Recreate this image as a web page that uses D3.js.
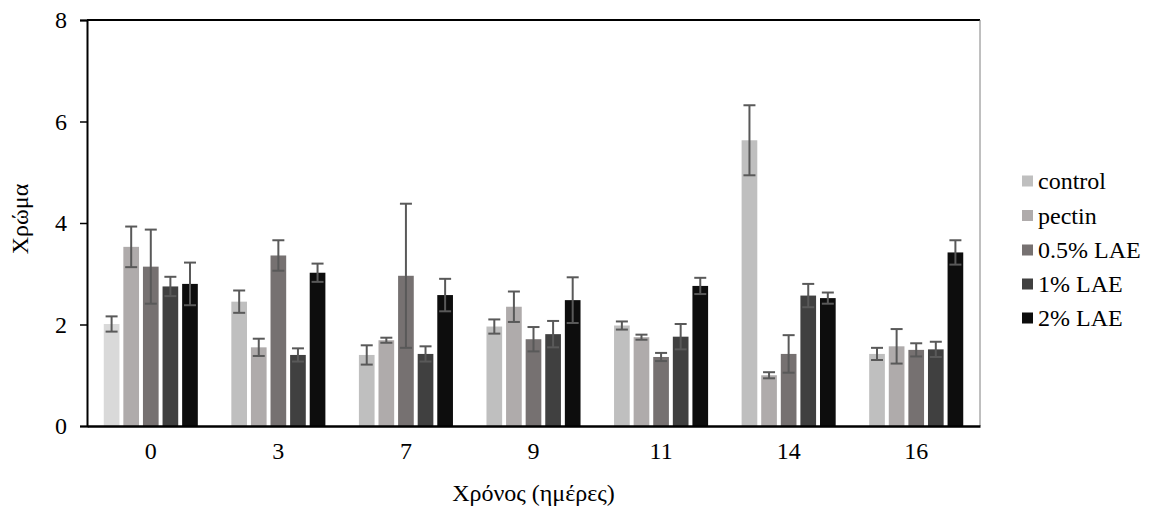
<!DOCTYPE html>
<html>
<head>
<meta charset="utf-8">
<script src="https://cdn.jsdelivr.net/npm/d3@7"></script>
<style>
  html, body { margin: 0; padding: 0; background: #fff; }
  svg text { font-family: "Liberation Serif", "Times New Roman", "DejaVu Serif", serif; fill: #000; }
</style>
</head>
<body>
<svg id="chart" width="1149" height="513"></svg>
<script>
const days = ["0", "3", "7", "9", "11", "14", "16"];
const seriesNames = ["control", "pectin", "0.5% LAE", "1% LAE", "2% LAE"];
const control    = [2.01, 2.45, 1.40, 1.96, 1.98, 5.63, 1.42];
const pectin     = [3.53, 1.55, 1.69, 2.35, 1.75, 1.00, 1.57];
const lae05      = [3.14, 3.36, 2.96, 1.71, 1.36, 1.42, 1.50];
const lae1       = [2.75, 1.40, 1.42, 1.81, 1.76, 2.57, 1.51];
const lae2       = [2.80, 3.02, 2.58, 2.48, 2.76, 2.52, 3.42];
const controlErr = [0.15, 0.22, 0.19, 0.14, 0.08, 0.69, 0.12];
const pectinErr  = [0.40, 0.17, 0.05, 0.30, 0.05, 0.06, 0.34];
const lae05Err   = [0.73, 0.30, 1.42, 0.24, 0.08, 0.37, 0.13];
const lae1Err    = [0.19, 0.13, 0.15, 0.26, 0.25, 0.23, 0.15];
const lae2Err    = [0.42, 0.18, 0.32, 0.45, 0.16, 0.11, 0.24];
const yTicks = [0, 2, 4, 6, 8];
const xTitle = "Χρόνος (ημέρες)";
const yTitle = "Χρώμα";

const values = [control, pectin, lae05, lae1, lae2];
const errors = [controlErr, pectinErr, lae05Err, lae1Err, lae2Err];
const colors = ["#bfbfbf", "#afabab", "#767171", "#404040", "#0d0d0d"];
const FONT = '"Liberation Serif", "Times New Roman", "DejaVu Serif", serif';
const FS = "24px";

const svg = d3.select("#chart");
const L = 87, R = 980, T = 20, B = 426;

const x0 = d3.scaleBand().domain(days).range([L, R]).padding(0);
const x1 = d3.scaleBand().domain(seriesNames).range([0, x0.bandwidth()])
  .paddingInner(0.2).paddingOuter(0.855);
const y = d3.scaleLinear().domain([0, 8]).range([B, T]);

const data = [];
days.forEach((d, i) => {
  seriesNames.forEach((s, j) => {
    data.push({ day: d, series: s, j, v: values[j][i], e: errors[j][i], i });
  });
});

// bars
svg.append("g").selectAll("rect").data(data).join("rect")
  .attr("x", d => x0(d.day) + x1(d.series))
  .attr("width", x1.bandwidth())
  .attr("y", d => y(d.v))
  .attr("height", d => y(0) - y(d.v))
  .attr("fill", d => (d.j === 0 && d.i === 0) ? "#d9d9d9" : colors[d.j]);

// error bars
const eg = svg.append("g").attr("stroke", "#595959").attr("stroke-width", 2);
data.forEach(d => {
  const cx = x0(d.day) + x1(d.series) + x1.bandwidth() / 2;
  const y1 = y(d.v + d.e), y2 = y(d.v - d.e);
  eg.append("line").attr("x1", cx).attr("x2", cx).attr("y1", y1).attr("y2", y2);
  eg.append("line").attr("x1", cx - 6).attr("x2", cx + 6).attr("y1", y1).attr("y2", y1);
  eg.append("line").attr("x1", cx - 6).attr("x2", cx + 6).attr("y1", y2).attr("y2", y2);
});

// frame
svg.append("line").attr("x1", L).attr("x2", R).attr("y1", T).attr("y2", T)
  .attr("stroke", "#000").attr("stroke-width", 2);
svg.append("line").attr("x1", R).attr("x2", R).attr("y1", T).attr("y2", B)
  .attr("stroke", "#808080").attr("stroke-width", 1);

// y axis
const yAxis = svg.append("g").attr("transform", `translate(${L},0)`)
  .call(d3.axisLeft(y).tickValues(yTicks).tickSize(7).tickPadding(13).tickFormat(d3.format("d")));
yAxis.attr("font-family", FONT).attr("font-size", FS);
yAxis.select(".domain").attr("stroke", "#000").attr("stroke-width", 2);
yAxis.selectAll(".tick line").attr("stroke", "#000").attr("stroke-width", 1.5);
yAxis.selectAll("text").attr("fill", "#000");

// x axis
const xAxis = svg.append("g").attr("transform", `translate(0,${B})`)
  .call(d3.axisBottom(x0).tickSize(0).tickPadding(16));
xAxis.attr("font-family", FONT).attr("font-size", FS);
xAxis.select(".domain").attr("stroke", "#000").attr("stroke-width", 2.5);
xAxis.selectAll("text").attr("fill", "#000");

// axis titles
svg.append("text").attr("x", (L + R) / 2).attr("y", 501).attr("text-anchor", "middle")
  .attr("font-family", FONT).attr("font-size", FS).text(xTitle);
svg.append("text").attr("transform", `translate(28,${(T + B) / 2 - 4}) rotate(-90)`)
  .attr("text-anchor", "middle").attr("font-family", FONT).attr("font-size", FS).text(yTitle);

// legend
const legendY = [181, 215.5, 250, 284, 318];
const lg = svg.append("g");
seriesNames.forEach((s, j) => {
  lg.append("rect").attr("x", 1022).attr("y", legendY[j] - 5.5).attr("width", 11).attr("height", 11)
    .attr("fill", colors[j]);
  lg.append("text").attr("x", 1038).attr("y", legendY[j]).attr("dy", "0.35em")
    .attr("font-family", FONT).attr("font-size", FS).text(s);
});
</script>
</body>
</html>
